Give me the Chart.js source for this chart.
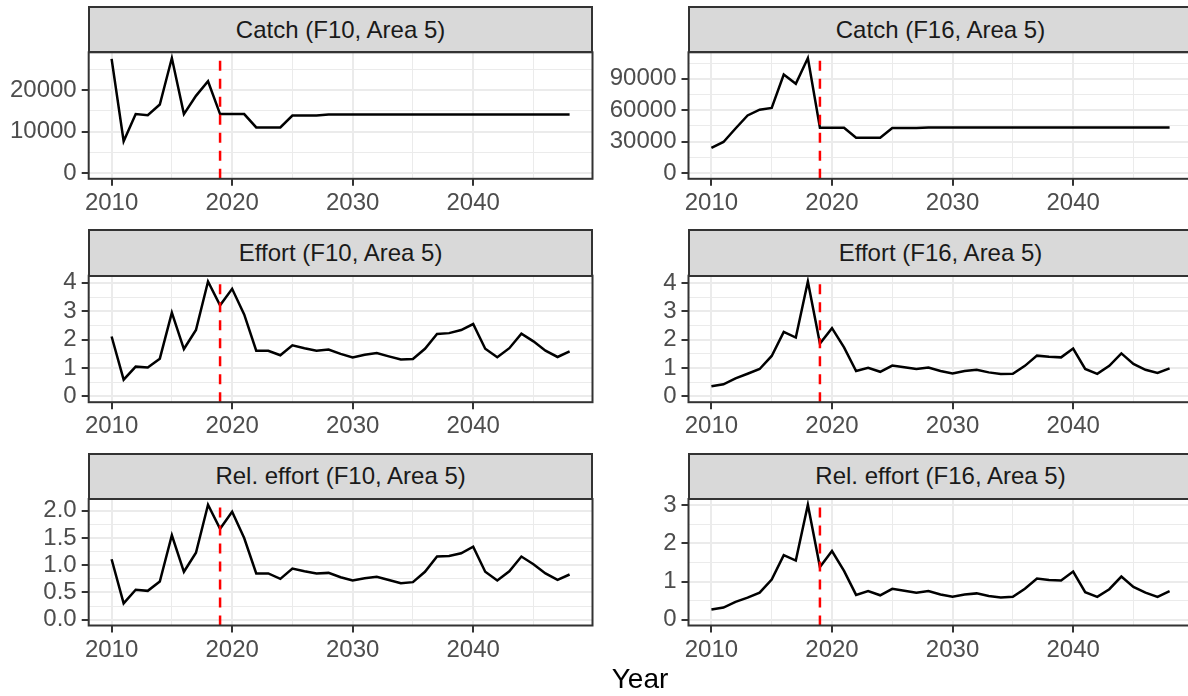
<!DOCTYPE html>
<html>
<head>
<meta charset="utf-8">
<script src="https://cdn.jsdelivr.net/npm/chart.js@4.4.0/dist/chart.umd.min.js"></script>
<style>
  html, body { margin: 0; padding: 0; background: #fff; }
  #fig { position: relative; width: 1188px; height: 696px; overflow: hidden;
         font-family: "Liberation Sans", Arial, sans-serif; }
  .strip { position: absolute; box-sizing: border-box; border: 2px solid #333;
           background: #d9d9d9; color: #1a1a1a; font-size: 24px;
           display: flex; align-items: center; justify-content: center; }
  canvas { position: absolute; }
  #xtitle { position: absolute; left: 0; width: 1280px; top: 662px; text-align: center;
            font-size: 28px; color: #000; line-height: 34px; }
</style>
</head>
<body>
<div id="fig">
  <div id="xtitle">Year</div>
</div>
<script>
const years = [2010, 2011, 2012, 2013, 2014, 2015, 2016, 2017, 2018, 2019,
               2020, 2021, 2022, 2023, 2024, 2025, 2026, 2027, 2028, 2029,
               2030, 2031, 2032, 2033, 2034, 2035, 2036, 2037, 2038, 2039,
               2040, 2041, 2042, 2043, 2044, 2045, 2046, 2047, 2048];

const catchF10 = [27500, 7650, 14200, 13950, 16500, 27700, 14200, 18600, 22100, 14200,
                  14200, 14200, 11000, 11000, 11000, 13850, 13850, 13850, 14100, 14100,
                  14100, 14100, 14100, 14100, 14100, 14100, 14100, 14100, 14100, 14100,
                  14100, 14100, 14100, 14100, 14100, 14100, 14100, 14100, 14100];
const catchF16 = [24000, 29700, 42600, 55000, 60600, 62200, 94100, 85300, 109900, 43300,
                  43300, 43300, 33800, 33800, 33800, 43000, 43000, 43000, 43600, 43600,
                  43600, 43600, 43600, 43600, 43600, 43600, 43600, 43600, 43600, 43600,
                  43600, 43600, 43600, 43600, 43600, 43600, 43600, 43600, 43600];
const effortF10 = [2.11, 0.59, 1.05, 1.02, 1.33, 2.95, 1.67, 2.34, 4.05, 3.21,
                   3.79, 2.89, 1.61, 1.61, 1.45, 1.80, 1.70, 1.61, 1.65, 1.50,
                   1.37, 1.47, 1.53, 1.41, 1.30, 1.32, 1.68, 2.20, 2.23, 2.34,
                   2.55, 1.68, 1.38, 1.70, 2.21, 1.94, 1.61, 1.39, 1.59];
const effortF16 = [0.36, 0.43, 0.64, 0.80, 0.97, 1.43, 2.28, 2.08, 4.06, 1.87,
                   2.41, 1.73, 0.90, 1.01, 0.87, 1.09, 1.03, 0.97, 1.02, 0.90,
                   0.81, 0.90, 0.94, 0.85, 0.79, 0.80, 1.08, 1.44, 1.40, 1.38,
                   1.69, 0.97, 0.80, 1.08, 1.52, 1.15, 0.94, 0.83, 0.99];
const relEffortF10 = [1.11, 0.30, 0.55, 0.53, 0.70, 1.55, 0.88, 1.23, 2.11, 1.67,
                      1.98, 1.50, 0.85, 0.85, 0.75, 0.94, 0.89, 0.85, 0.86, 0.78,
                      0.72, 0.76, 0.79, 0.73, 0.67, 0.69, 0.88, 1.16, 1.17, 1.22,
                      1.34, 0.88, 0.72, 0.89, 1.16, 1.02, 0.85, 0.73, 0.83];
const relEffortF16 = [0.27, 0.32, 0.47, 0.58, 0.71, 1.05, 1.69, 1.55, 3.01, 1.38,
                      1.80, 1.28, 0.65, 0.75, 0.64, 0.81, 0.76, 0.71, 0.75, 0.66,
                      0.60, 0.66, 0.69, 0.62, 0.58, 0.60, 0.81, 1.08, 1.04, 1.03,
                      1.26, 0.72, 0.60, 0.80, 1.13, 0.86, 0.71, 0.60, 0.75];

const xTicks = [2010, 2020, 2030, 2040];
const xTickLabels = ['2010', '2020', '2030', '2040'];
const catchF10Ticks = [0, 10000, 20000];
const catchF16Ticks = [0, 30000, 60000, 90000];
const effortTicks = [0, 1, 2, 3, 4];
const relF10Ticks = [0, 0.5, 1, 1.5, 2];
const relF10TickLabels = ['0.0', '0.5', '1.0', '1.5', '2.0'];
const relF16Ticks = [0, 1, 2, 3];

const cutYear = 2019;

// panel layout (pixels)
const cols = [
  { canvasLeft: 0, plotLeft: 88.7, plotRight: 592.5 },
  { canvasLeft: 600, plotLeft: 688.5, plotRight: 1192.5 }
];
const rowTops = [52.3, 275.7, 499];
const plotH = 126.5;
const stripH = 46.3;
const canvasW = 600;

const panels = [
  { title: 'Catch (F10, Area 5)', values: catchF10, ticks: catchF10Ticks, col: 0, row: 0 },
  { title: 'Catch (F16, Area 5)', values: catchF16, ticks: catchF16Ticks, col: 1, row: 0 },
  { title: 'Effort (F10, Area 5)', values: effortF10, ticks: effortTicks, col: 0, row: 1 },
  { title: 'Effort (F16, Area 5)', values: effortF16, ticks: effortTicks, col: 1, row: 1 },
  { title: 'Rel. effort (F10, Area 5)', values: relEffortF10, ticks: relF10Ticks, labels: relF10TickLabels, col: 0, row: 2 },
  { title: 'Rel. effort (F16, Area 5)', values: relEffortF16, ticks: relF16Ticks, col: 1, row: 2 }
];

Chart.defaults.font.family = '"Liberation Sans", Arial, sans-serif';
Chart.defaults.animation = false;

// major ticks plus ggplot-style minor ones half way between
function withMinor(major, min, max) {
  const step = major[1] - major[0];
  let all = [];
  major.forEach(v => all.push({ value: v, minor: false }));
  for (let v = major[0] - step / 2; v < major[major.length - 1] + step; v += step) {
    all.push({ value: v, minor: true });
  }
  all = all.filter(t => t.value >= min && t.value <= max);
  all.sort((a, b) => a.value - b.value);
  return all;
}

const panelDecor = {
  id: 'panelDecor',
  afterDatasetsDraw(chart) {
    const ctx = chart.ctx;
    const a = chart.chartArea;
    const x = chart.scales.x.getPixelForValue(cutYear);
    ctx.save();
    ctx.beginPath();
    ctx.rect(a.left, a.top, a.right - a.left, a.bottom - a.top);
    ctx.clip();
    ctx.strokeStyle = '#ff0000';
    ctx.lineWidth = 2.5;
    ctx.setLineDash([10, 8]);
    ctx.beginPath();
    ctx.moveTo(x, a.bottom);
    ctx.lineTo(x, a.top);
    ctx.stroke();
    ctx.restore();
  },
  afterDraw(chart) {
    const ctx = chart.ctx;
    const a = chart.chartArea;
    ctx.save();
    ctx.strokeStyle = '#333333';
    ctx.lineWidth = 2;
    ctx.strokeRect(a.left, a.top, a.right - a.left, a.bottom - a.top);
    ctx.restore();
  }
};

const fig = document.getElementById('fig');

panels.forEach(p => {
  const c = cols[p.col];
  const T = rowTops[p.row];

  const strip = document.createElement('div');
  strip.className = 'strip';
  strip.textContent = p.title;
  strip.style.left = (c.plotLeft - 1) + 'px';
  strip.style.top = (T - stripH) + 'px';
  strip.style.width = (c.plotRight - c.plotLeft + 2) + 'px';
  strip.style.height = (stripH + 1) + 'px';
  fig.appendChild(strip);

  const canvasTop = Math.floor(T) - 6;
  const padTop = T - canvasTop;
  const canvasH = Math.ceil(padTop + plotH + 46);
  const xAxisH = canvasH - padTop - plotH;

  const canvas = document.createElement('canvas');
  canvas.width = canvasW;
  canvas.height = canvasH;
  canvas.style.left = c.canvasLeft + 'px';
  canvas.style.top = canvasTop + 'px';
  canvas.style.width = canvasW + 'px';
  canvas.style.height = canvasH + 'px';
  fig.insertBefore(canvas, fig.firstChild);

  const yMax = Math.max(...p.values);
  const yLo = -0.05 * yMax;
  const yHi = 1.05 * yMax;
  const xLo = years[0] - 0.05 * (years[years.length - 1] - years[0]);
  const xHi = years[years.length - 1] + 0.05 * (years[years.length - 1] - years[0]);

  const gridColor = t => '#ebebeb';
  const gridWidth = ctx => (ctx.tick && ctx.tick.minor) ? 1 : 2;
  const tickColor = ctx => (ctx.tick && ctx.tick.minor) ? 'rgba(0,0,0,0)' : '#333333';

  new Chart(canvas, {
    type: 'line',
    data: {
      datasets: [{
        data: years.map((yr, i) => ({ x: yr, y: p.values[i] })),
        borderColor: '#000000',
        borderWidth: 2.5,
        pointRadius: 0,
        tension: 0,
        fill: false
      }]
    },
    options: {
      responsive: false,
      devicePixelRatio: 1,
      layout: { padding: { top: padTop, right: c.canvasLeft + canvasW - c.plotRight, bottom: 0, left: 0 } },
      plugins: { legend: { display: false }, tooltip: { enabled: false } },
      scales: {
        x: {
          type: 'linear',
          min: xLo,
          max: xHi,
          afterBuildTicks: s => { s.ticks = withMinor(xTicks, xLo, xHi); },
          afterFit: s => { s.height = xAxisH; s.paddingLeft = 0; s.paddingRight = 0; },
          border: { display: false },
          grid: { color: gridColor, lineWidth: gridWidth, tickColor: tickColor, tickLength: 7, tickWidth: 2 },
          ticks: {
            autoSkip: false, maxRotation: 0, minRotation: 0, padding: 3,
            color: '#4d4d4d', font: { size: 24 },
            callback: (v, i, t) => t[i].minor ? '' : xTickLabels[xTicks.indexOf(v)]
          }
        },
        y: {
          type: 'linear',
          min: yLo,
          max: yHi,
          afterBuildTicks: s => { s.ticks = withMinor(p.ticks, yLo, yHi); },
          afterFit: s => { s.width = c.plotLeft - c.canvasLeft; s.paddingTop = 0; s.paddingBottom = 0; },
          border: { display: false },
          grid: { color: gridColor, lineWidth: gridWidth, tickColor: tickColor, tickLength: 7, tickWidth: 2 },
          ticks: {
            autoSkip: false, padding: 5,
            color: '#4d4d4d', font: { size: 24 },
            callback: (v, i, t) => {
              if (t[i].minor) return '';
              const k = p.ticks.indexOf(v);
              return p.labels ? p.labels[k] : String(v);
            }
          }
        }
      }
    },
    plugins: [panelDecor]
  });
});
</script>
</body>
</html>
